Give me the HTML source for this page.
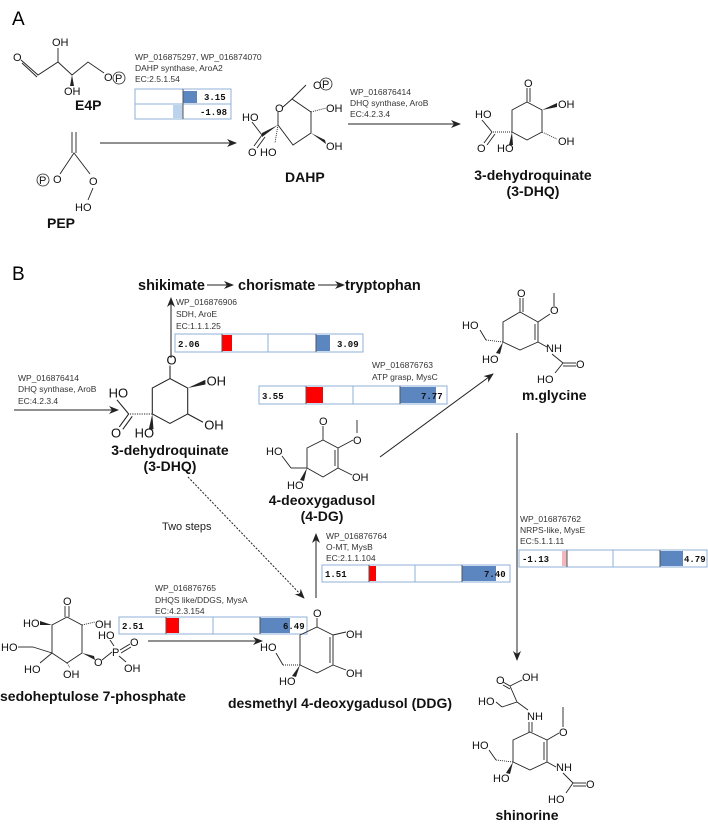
<!DOCTYPE html>
<html><head><meta charset="utf-8"><style>
html,body{margin:0;padding:0;background:#fff;}
svg{display:block;font-family:"Liberation Sans",Arial,sans-serif;}
.a{font-size:11px;fill:#111;}
.s{font-size:8.5px;fill:#333;}
.b{font-size:14px;font-weight:bold;fill:#111;}
.v{font-size:9px;font-weight:bold;fill:#111;font-family:"Liberation Mono",monospace;}
.l{stroke:#222;stroke-width:0.9;fill:none;}
.ar{stroke:#222;stroke-width:1;fill:none;}
.bx{fill:#fff;stroke:#8fb0d8;stroke-width:1;}
.dv{stroke:#8fb0d8;stroke-width:1;}
</style></head><body>
<svg width="708" height="824" viewBox="0 0 708 824">
<defs>
<marker id="ah" markerWidth="10" markerHeight="8" refX="9" refY="4" orient="auto" markerUnits="userSpaceOnUse"><path d="M0,0 L10,4 L0,8 L3,4 z" fill="#222"/></marker>
</defs>
<text x="12" y="25" style="font-size:19px">A</text>
<text x="12" y="280" style="font-size:19px">B</text>

<!-- E4P -->
<text class="a" x="13" y="61">O</text>
<polyline class="l" points="21,60 38,75 58,62 72,75 88,62 104,73"/>
<line class="l" x1="22" y1="63" x2="37" y2="77"/>
<line class="l" x1="58" y1="62" x2="58" y2="48"/>
<text class="a" x="52" y="46">OH</text>
<polygon points="72,75 70,86 74,86" fill="#222"/>
<text class="a" x="64" y="95">OH</text>
<text class="a" x="104" y="81">O</text>
<circle cx="119" cy="78" r="6" fill="none" stroke="#222" stroke-width="0.8"/><text class="a" x="115" y="82">P</text>
<text class="b" x="75" y="110">E4P</text>

<!-- PEP -->
<line class="l" x1="72" y1="132" x2="72" y2="153"/><line class="l" x1="76" y1="132" x2="76" y2="153"/>
<polyline class="l" points="60,174 74,153 90,174"/>
<text class="a" x="53" y="183">O</text>
<circle cx="43" cy="180" r="6" fill="none" stroke="#222" stroke-width="0.8"/><text class="a" x="39" y="184">P</text>
<text class="a" x="89" y="185">O</text>
<line class="l" x1="93" y1="188" x2="88" y2="200"/>
<text class="a" x="75" y="211">HO</text>
<text class="b" x="47" y="228">PEP</text>

<!-- Arrow A1 -->
<line class="ar" x1="100" y1="143" x2="236" y2="143" marker-end="url(#ah)"/>
<text class="s" x="135" y="60">WP_016875297, WP_016874070</text>
<text class="s" x="135" y="71">DAHP synthase, AroA2</text>
<text class="s" x="135" y="82">EC:2.5.1.54</text>
<rect class="bx" x="135" y="89" width="96" height="30"/>
<line class="dv" x1="135" y1="104" x2="231" y2="104"/>
<rect x="183" y="91" width="14" height="12" fill="#5b86c0"/>
<rect x="173" y="105" width="10" height="13" fill="#bcd3ee"/>
<line x1="183" y1="89" x2="183" y2="119" stroke="#555"/>
<text class="v" x="204" y="100">3.15</text>
<text class="v" x="200" y="115">-1.98</text>

<!-- DAHP -->
<polyline class="l" points="283,107 292,99 311,112 311,133 293,145 278,125 278,112"/>
<line class="l" x1="292" y1="99" x2="306" y2="85"/>
<text class="a" x="313" y="89">O</text>
<circle cx="326" cy="84" r="6" fill="none" stroke="#222" stroke-width="0.8"/><text class="a" x="322" y="88">P</text>
<text class="a" x="275" y="112">O</text>
<line class="l" x1="311" y1="112" x2="326" y2="108" stroke-dasharray="1,1"/>
<text class="a" x="326" y="112">OH</text>
<polygon points="311,133 326,144 325,140" fill="#222"/>
<text class="a" x="326" y="150">OH</text>
<polygon points="278,125 262,133 262,137" fill="#222"/>
<line class="l" x1="262" y1="135" x2="252" y2="122"/>
<text class="a" x="242" y="121">HO</text>
<line class="l" x1="262" y1="135" x2="254" y2="146"/><line class="l" x1="265" y1="137" x2="257" y2="148"/>
<text class="a" x="248" y="156">O</text>
<line class="l" x1="278" y1="125" x2="275" y2="143" stroke-dasharray="1,1"/>
<text class="a" x="260" y="156">HO</text>
<text class="b" x="285" y="182">DAHP</text>

<!-- Arrow A2 -->
<line class="ar" x1="348" y1="124" x2="460" y2="124" marker-end="url(#ah)"/>
<text class="s" x="350" y="95">WP_016876414</text>
<text class="s" x="350" y="106">DHQ synthase, AroB</text>
<text class="s" x="350" y="117">EC:4.2.3.4</text>

<!-- 3-DHQ A -->
<g transform="translate(527,121)">
<polygon class="l" points="0,-19 15,-11 15,11 0,19 -15,11 -15,-11"/>
<line class="l" x1="0" y1="-19" x2="0" y2="-33"/><line class="l" x1="3" y1="-19" x2="3" y2="-33"/>
<text class="a" x="-3" y="-34">O</text>
<polygon points="15,-11 30,-18 30,-14" fill="#222"/><text class="a" x="31" y="-13">OH</text>
<line class="l" x1="15" y1="11" x2="30" y2="18" stroke-dasharray="1,1"/><text class="a" x="31" y="24">OH</text>
<line class="l" x1="-15" y1="11" x2="-35" y2="11" stroke-dasharray="1,1"/>
<line class="l" x1="-35" y1="11" x2="-45" y2="-1"/><text class="a" x="-52" y="-3">HO</text>
<line class="l" x1="-35" y1="11" x2="-43" y2="22"/><line class="l" x1="-32" y1="13" x2="-40" y2="24"/>
<text class="a" x="-50" y="31">O</text>
<polygon points="-15,11 -18,24 -14,24" fill="#222"/><text class="a" x="-30" y="31">HO</text>
</g>
<text class="b" x="533" y="180" text-anchor="middle">3-dehydroquinate</text>
<text class="b" x="533" y="196" text-anchor="middle">(3-DHQ)</text>

<!-- B top -->
<text class="b" x="138" y="290" style="font-size:14.5px">shikimate</text>
<line class="ar" x1="207" y1="285" x2="233" y2="285" marker-end="url(#ah)"/>
<text class="b" x="238" y="290" style="font-size:14.5px">chorismate</text>
<line class="ar" x1="318" y1="285" x2="344" y2="285" marker-end="url(#ah)"/>
<text class="b" x="345" y="290" style="font-size:14.5px">tryptophan</text>

<line class="ar" x1="171" y1="358" x2="171" y2="298" marker-end="url(#ah)" stroke="#666"/>
<text class="s" x="176" y="305">WP_016876906</text>
<text class="s" x="176" y="317">SDH, AroE</text>
<text class="s" x="176" y="329">EC:1.1.1.25</text>
<rect class="bx" x="175" y="334" width="188" height="18"/>
<rect x="222" y="335" width="10" height="16" fill="#ff0000"/>
<rect x="316" y="335" width="14" height="16" fill="#5b86c0"/>
<line class="dv" x1="268" y1="334" x2="268" y2="352"/>
<line x1="222" y1="334" x2="222" y2="352" stroke="#555"/><line x1="316" y1="334" x2="316" y2="352" stroke="#555"/>
<text class="v" x="178" y="347">2.06</text><text class="v" x="337" y="347">3.09</text>

<line class="ar" x1="14" y1="410" x2="118" y2="410" marker-end="url(#ah)"/>
<text class="s" x="18" y="381">WP_016876414</text>
<text class="s" x="18" y="392">DHQ synthase, AroB</text>
<text class="s" x="18" y="404">EC:4.2.3.4</text>

<!-- 3-DHQ B -->
<g transform="translate(170,401) scale(1.18)">
<polygon class="l" points="0,-19 15,-11 15,11 0,19 -15,11 -15,-11"/>
<line class="l" x1="0" y1="-19" x2="0" y2="-30"/>
<text class="a" x="-3" y="-31">O</text>
<polygon points="15,-11 30,-18 30,-14" fill="#222"/><text class="a" x="31" y="-13">OH</text>
<line class="l" x1="15" y1="11" x2="28" y2="18"/><text class="a" x="29" y="24">OH</text>
<line class="l" x1="-15" y1="11" x2="-35" y2="11" stroke-dasharray="1,1"/>
<line class="l" x1="-35" y1="11" x2="-45" y2="-1"/><text class="a" x="-52" y="-3">HO</text>
<line class="l" x1="-35" y1="11" x2="-43" y2="22"/><line class="l" x1="-32" y1="13" x2="-40" y2="24"/>
<text class="a" x="-50" y="31">O</text>
<polygon points="-15,11 -18,24 -14,24" fill="#222"/><text class="a" x="-30" y="31">HO</text>
</g>
<text class="b" x="170" y="455" text-anchor="middle">3-dehydroquinate</text>
<text class="b" x="170" y="471" text-anchor="middle">(3-DHQ)</text>

<!-- ATP grasp -->
<text class="s" x="372" y="368">WP_016876763</text>
<text class="s" x="372" y="380">ATP grasp, MysC</text>
<rect class="bx" x="259" y="386" width="188" height="18"/>
<rect x="306" y="387" width="17" height="16" fill="#ff0000"/>
<rect x="400" y="387" width="36" height="16" fill="#5b86c0"/>
<line class="dv" x1="353" y1="386" x2="353" y2="404"/>
<line x1="306" y1="386" x2="306" y2="404" stroke="#555"/><line x1="400" y1="386" x2="400" y2="404" stroke="#555"/>
<text class="v" x="262" y="399">3.55</text><text class="v" x="421" y="399">7.77</text>
<line class="ar" x1="380" y1="457" x2="493" y2="374" marker-end="url(#ah)"/>

<!-- 4-DG -->
<polygon class="l" points="323,440 338,448 338,468 323,477 307,468 307,448"/>
<line class="l" x1="335" y1="450" x2="335" y2="466"/>
<line class="l" x1="323" y1="440" x2="323" y2="426"/><text class="a" x="319" y="425">O</text>
<line class="l" x1="338" y1="448" x2="353" y2="440"/><text class="a" x="353" y="444">O</text>
<line class="l" x1="357" y1="433" x2="357" y2="420"/>
<line class="l" x1="338" y1="468" x2="352" y2="475"/><text class="a" x="352" y="481">OH</text>
<line class="l" x1="307" y1="468" x2="291" y2="468"/><line class="l" x1="291" y1="468" x2="282" y2="456"/>
<text class="a" x="266" y="455">HO</text>
<polygon points="307,468 300,480 304,481" fill="#222"/><text class="a" x="287" y="489">HO</text>
<text class="b" x="322" y="505" text-anchor="middle">4-deoxygadusol</text>
<text class="b" x="322" y="521" text-anchor="middle">(4-DG)</text>

<!-- m.glycine -->
<polygon class="l" points="520,312 538,322 538,342 520,350 503,342 503,322"/>
<line class="l" x1="535" y1="324" x2="535" y2="340"/>
<line class="l" x1="520" y1="312" x2="520" y2="298"/><line class="l" x1="523" y1="312" x2="523" y2="298"/><text class="a" x="517" y="297">O</text>
<line class="l" x1="538" y1="322" x2="550" y2="314"/><text class="a" x="550" y="314">O</text>
<line class="l" x1="554" y1="306" x2="554" y2="293"/>
<line class="l" x1="538" y1="342" x2="547" y2="347"/><text class="a" x="546" y="352">NH</text>
<line class="l" x1="552" y1="354" x2="563" y2="363"/><line class="l" x1="563" y1="363" x2="576" y2="363"/><line class="l" x1="563" y1="366" x2="576" y2="366"/>
<text class="a" x="576" y="368">O</text>
<line class="l" x1="563" y1="363" x2="555" y2="373"/><text class="a" x="537" y="383">HO</text>
<line class="l" x1="503" y1="342" x2="486" y2="340" stroke-dasharray="1,1"/><line class="l" x1="486" y1="340" x2="480" y2="330"/>
<text class="a" x="462" y="329">HO</text>
<polygon points="503,342 496,353 500,354" fill="#222"/><text class="a" x="482" y="363">HO</text>
<text class="b" x="522" y="400">m.glycine</text>

<!-- Two steps dashed -->
<line class="ar" x1="188" y1="477" x2="304" y2="598" stroke-dasharray="2,1.5" stroke-width="0.8" marker-end="url(#ah)"/>
<text x="162" y="530" style="font-size:11px;fill:#222">Two steps</text>

<!-- MysB -->
<line class="ar" x1="316" y1="598" x2="316" y2="534" marker-end="url(#ah)" stroke="#666"/>
<text class="s" x="326" y="539">WP_016876764</text>
<text class="s" x="326" y="550">O-MT, MysB</text>
<text class="s" x="326" y="561">EC:2.1.1.104</text>
<rect class="bx" x="322" y="565" width="188" height="17"/>
<rect x="369" y="566" width="7" height="15" fill="#ff0000"/>
<rect x="462" y="566" width="34" height="15" fill="#5b86c0"/>
<line class="dv" x1="415" y1="565" x2="415" y2="582"/>
<line x1="369" y1="565" x2="369" y2="582" stroke="#555"/><line x1="462" y1="565" x2="462" y2="582" stroke="#555"/>
<text class="v" x="325" y="577">1.51</text><text class="v" x="484" y="577">7.40</text>

<!-- NRPS -->
<line class="ar" x1="517" y1="433" x2="517" y2="660" marker-end="url(#ah)" stroke="#666" stroke-width="1.2"/>
<text class="s" x="520" y="522">WP_016876762</text>
<text class="s" x="520" y="533">NRPS-like, MysE</text>
<text class="s" x="520" y="544">EC:5.1.1.11</text>
<rect class="bx" x="519" y="550" width="188" height="17"/>
<rect x="562" y="551" width="5" height="15" fill="#f0b8bc"/>
<rect x="660" y="551" width="23" height="15" fill="#5b86c0"/>
<line class="dv" x1="613" y1="550" x2="613" y2="567"/>
<line x1="567" y1="550" x2="567" y2="567" stroke="#555"/><line x1="660" y1="550" x2="660" y2="567" stroke="#555"/>
<text class="v" x="522" y="562">-1.13</text><text class="v" x="684" y="562">4.79</text>

<!-- MysA -->
<text class="s" x="155" y="591">WP_016876765</text>
<text class="s" x="155" y="603">DHQS like/DDGS, MysA</text>
<text class="s" x="155" y="614">EC:4.2.3.154</text>
<rect class="bx" x="119" y="617" width="188" height="17"/>
<rect x="166" y="618" width="13" height="15" fill="#ff0000"/>
<rect x="260" y="618" width="30" height="15" fill="#5b86c0"/>
<line class="dv" x1="213" y1="617" x2="213" y2="634"/>
<line x1="166" y1="617" x2="166" y2="634" stroke="#555"/><line x1="260" y1="617" x2="260" y2="634" stroke="#555"/>
<text class="v" x="122" y="629">2.51</text><text class="v" x="283" y="629">6.49</text>
<line class="ar" x1="148" y1="641" x2="262" y2="641" marker-end="url(#ah)" stroke="#555" stroke-width="1.2"/>

<!-- Sedoheptulose -->
<polygon class="l" points="67,617 82,625 82,653 67,663 52,653 52,625"/>
<line class="l" x1="65" y1="617" x2="65" y2="606"/><line class="l" x1="69" y1="617" x2="69" y2="606"/><text class="a" x="63" y="605">O</text>
<line class="l" x1="82" y1="625" x2="95" y2="622" stroke-dasharray="1,1"/><text class="a" x="95" y="628">OH</text>
<polygon points="82,653 95,660 94,656" fill="#222"/><text class="a" x="94" y="666">O</text>
<line class="l" x1="102" y1="660" x2="112" y2="652"/><text class="a" x="112" y="656">P</text>
<line class="l" x1="114" y1="646" x2="110" y2="640"/><text class="a" x="98" y="639">HO</text>
<line class="l" x1="120" y1="650" x2="130" y2="644"/><line class="l" x1="121" y1="653" x2="131" y2="647"/><text class="a" x="130" y="646">O</text>
<line class="l" x1="119" y1="656" x2="126" y2="662"/><text class="a" x="124" y="672">OH</text>
<line class="l" x1="67" y1="663" x2="70" y2="668" stroke-dasharray="1,1"/><text class="a" x="63" y="678">OH</text>
<line class="l" x1="52" y1="653" x2="40" y2="663"/><text class="a" x="24" y="673">HO</text>
<line class="l" x1="52" y1="653" x2="33" y2="647"/><line class="l" x1="33" y1="647" x2="18" y2="647"/><text class="a" x="1" y="651">HO</text>
<polygon points="52,625 40,621 40,625" fill="#222"/><text class="a" x="23" y="627">HO</text>
<text class="b" x="0" y="701">sedoheptulose 7-phosphate</text>

<!-- DDG -->
<polygon class="l" points="317,627 333,635 333,665 317,673 300,665 300,635"/>
<line class="l" x1="330" y1="637" x2="330" y2="663"/>
<line class="l" x1="317" y1="627" x2="317" y2="618"/><text class="a" x="313" y="617">O</text>
<line class="l" x1="333" y1="635" x2="346" y2="632"/><text class="a" x="346" y="638">OH</text>
<line class="l" x1="333" y1="665" x2="346" y2="670"/><text class="a" x="346" y="677">OH</text>
<line class="l" x1="300" y1="665" x2="283" y2="665" stroke-dasharray="1,1"/><line class="l" x1="283" y1="665" x2="276" y2="653"/>
<text class="a" x="260" y="651">HO</text>
<polygon points="300,665 292,676 296,677" fill="#222"/><text class="a" x="279" y="685">HO</text>
<text class="b" x="340" y="708" text-anchor="middle">desmethyl 4-deoxygadusol (DDG)</text>

<!-- Shinorine -->
<text class="a" x="496" y="684">O</text>
<line class="l" x1="503" y1="682" x2="510" y2="686"/><line class="l" x1="503" y1="685" x2="510" y2="689"/>
<line class="l" x1="510" y1="686" x2="522" y2="680"/><text class="a" x="522" y="681">OH</text>
<line class="l" x1="510" y1="686" x2="517" y2="702"/>
<line class="l" x1="517" y1="702" x2="502" y2="707"/><line class="l" x1="502" y1="707" x2="496" y2="702"/><text class="a" x="478" y="705">HO</text>
<line class="l" x1="517" y1="702" x2="528" y2="710"/><text class="a" x="527" y="720">NH</text>
<line class="l" x1="529" y1="722" x2="529" y2="732"/><line class="l" x1="532" y1="722" x2="532" y2="732"/>
<polygon class="l" points="530,732 547,740 547,762 530,770 513,762 513,740"/>
<line class="l" x1="544" y1="742" x2="544" y2="760"/>
<line class="l" x1="547" y1="740" x2="559" y2="733"/><text class="a" x="559" y="736">O</text>
<line class="l" x1="563" y1="727" x2="563" y2="707"/>
<line class="l" x1="547" y1="762" x2="556" y2="767"/><text class="a" x="556" y="771">NH</text>
<line class="l" x1="563" y1="773" x2="573" y2="783"/><line class="l" x1="573" y1="783" x2="586" y2="783"/><line class="l" x1="573" y1="786" x2="586" y2="786"/>
<text class="a" x="586" y="788">O</text>
<line class="l" x1="573" y1="783" x2="566" y2="793"/><text class="a" x="548" y="803">HO</text>
<line class="l" x1="513" y1="762" x2="496" y2="760" stroke-dasharray="1,1"/><line class="l" x1="496" y1="760" x2="489" y2="750"/>
<text class="a" x="472" y="749">HO</text>
<polygon points="513,762 506,773 510,774" fill="#222"/><text class="a" x="493" y="782">HO</text>
<text class="b" x="527" y="820" text-anchor="middle">shinorine</text>
</svg>
</body></html>
